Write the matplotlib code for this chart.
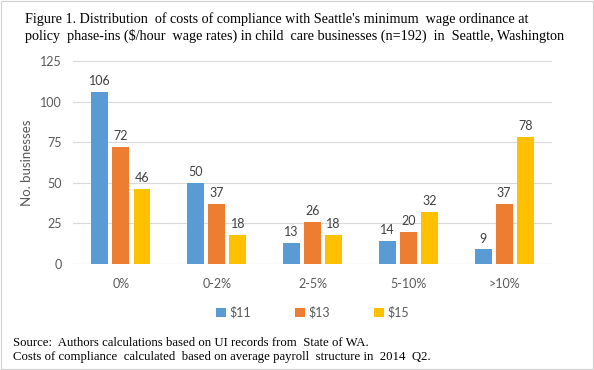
import matplotlib.pyplot as plt
import numpy as np
from matplotlib.patches import Rectangle

categories = ['0%', '0-2%', '2-5%', '5-10%', '>10%']
series_names = ['$11', '$13', '$15']
wage_11 = [106, 50, 13, 14, 9]
wage_13 = [72, 37, 26, 20, 37]
wage_15 = [46, 18, 18, 32, 78]
colors = ['#5b9bd5', '#ed7d31', '#ffc000']

fig = plt.figure(figsize=(5.94, 3.70), dpi=100)
ax = fig.add_axes([0.1229, 0.2865, 0.8064, 0.5486])

x = np.arange(len(categories))
width = 0.177
offsets = [-0.22, 0, 0.22]
for vals, off, col, name in zip([wage_11, wage_13, wage_15], offsets, colors, series_names):
    bars = ax.bar(x + off, vals, width, color=col, label=name, zorder=3)
    for b, v in zip(bars, vals):
        ax.text(b.get_x() + b.get_width() / 2, v + 3, str(v), ha='center', va='bottom',
                fontsize=9, color='#404040', family='Lato')

ax.set_xlim(-0.5, 4.5)
ax.set_ylim(0, 125)
ax.set_yticks([0, 25, 50, 75, 100, 125])
ax.set_xticks(x)
ax.set_xticklabels(categories)
ax.yaxis.grid(True, color='#d9d9d9', linewidth=0.8, zorder=0)
for s in ax.spines.values():
    s.set_visible(False)
ax.axhline(0, color='#d9d9d9', linewidth=0.8, zorder=1)
ax.tick_params(length=0, labelsize=9, labelcolor='#595959', pad=8)
for lab in ax.get_xticklabels() + ax.get_yticklabels():
    lab.set_family('Lato')
ax.tick_params(axis='x', pad=10)
ax.set_ylabel('No. businesses', fontsize=9.5, color='#595959', family='Lato', labelpad=5)

ax.legend(loc='center', bbox_to_anchor=(0.5, -0.24), ncol=3, frameon=False,
          prop={'family': 'Lato', 'size': 9}, handlelength=0.8, handleheight=0.8,
          columnspacing=3.5, handletextpad=0.3, labelcolor='#595959')

fig.text(0.042, 0.968, "Figure 1. Distribution  of costs of compliance with Seattle's minimum  wage ordinance at\n"
         "policy  phase-ins ($/hour  wage rates) in child  care businesses (n=192)  in  Seattle, Washington",
         ha='left', va='top', fontsize=10.15, family='Liberation Serif', linespacing=1.25)
fig.text(0.022, 0.054, "Source:  Authors calculations based on UI records from  State of WA.\n"
         "Costs of compliance  calculated  based on average payroll  structure in  2014  Q2.",
         ha='left', va='center', fontsize=9.2, family='Liberation Serif', linespacing=1.3)

fig.patches.append(Rectangle((0.002, 0.003), 0.996, 0.994, transform=fig.transFigure,
                             fill=False, edgecolor='#d0d0d0', linewidth=0.8))

fig.savefig('out.png', dpi=100)
